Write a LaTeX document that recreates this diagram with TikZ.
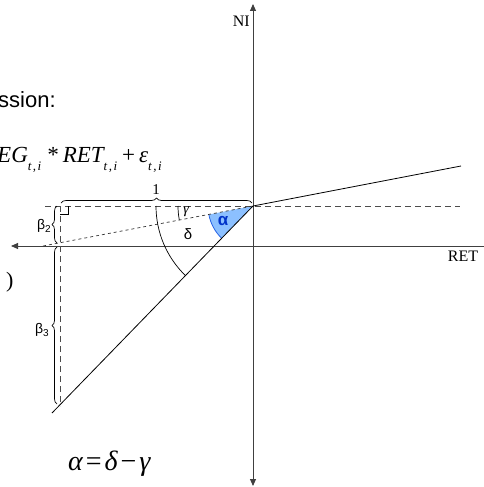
\documentclass[tikz,border=0pt]{standalone}
\usepackage{fontspec}
\setmainfont{Liberation Serif}
\newfontfamily\arialfont{Liberation Sans}
\usetikzlibrary{arrows.meta,calc,decorations.pathreplacing}
\definecolor{wedgefill}{RGB}{140,192,255}
\definecolor{wedgeline}{RGB}{40,100,230}
\definecolor{alphatext}{RGB}{0,50,200}
\tikzset{
    axis line/.style={
        draw=black!75,
        line width=0.9pt
    },
    long dashes/.style={
        draw=black!70,
        line width=0.8pt,
        dash pattern=on 6pt off 4pt
    },
    short dashes/.style={
        draw=black!80,
        line width=0.7pt,
        dash pattern=on 3pt off 3pt
    },
    curly/.style={
        decorate,
        decoration={brace, amplitude=5pt},
        line width=0.7pt
    },
    small label/.style={
        inner sep=0pt,
        font=\fontsize{14}{14}\selectfont
    }
}
\newcommand{\subti}{\raisebox{-8pt}{\fontsize{13}{13}\selectfont\itshape t\kern1.5pt,\kern1.5pt i}}

\begin{document}
\begin{tikzpicture}[x=1pt,y=-1pt]
\useasboundingbox (0,0) rectangle (484,487);
% axes
\coordinate (O) at (253,206);
\coordinate (ytop) at (253,4);
\coordinate (ybot) at (253,486);
\coordinate (xleft) at (11,246);
\coordinate (xright) at (486,246);
\draw[axis line,{Triangle[length=7pt,width=6pt]}-{Triangle[length=7pt,width=6pt]}] (ybot) -- (ytop);
\draw[axis line,-{Triangle[length=7pt,width=6pt]}] (xright) -- (xleft);
\node[small label,font=\fontsize{16}{16}\selectfont,anchor=east] (ni) at (250,21) {NI};
\node[small label,font=\fontsize{16}{16}\selectfont] (ret) at (463,256) {RET};

% regression lines
\coordinate (slopeend) at (461,166);
\coordinate (slopeleft) at (43,246);
\coordinate (downend) at (52,413);
\coordinate (hleft) at (45,206);
\coordinate (hright) at (460,206);
\coordinate (ctop) at (60,206);
\coordinate (cbot) at (60,406);

\fill[wedgefill] (O) -- ++(169.1:45) arc[start angle=169.1, end angle=134.2, radius=45] -- cycle;
\draw[wedgeline, line width=0.8pt] (O) ++(169.1:45) arc[start angle=169.1, end angle=134.2, radius=45];

\draw[long dashes] (hleft) -- (hright);
\draw[short dashes] (slopeleft) -- (O);
\draw[long dashes] (ctop) -- (cbot);
\draw[line width=0.8pt] (O) -- (slopeend);
\draw[line width=0.8pt] (O) -- (downend);
\draw[line width=0.6pt] (60,214) -- (68,214) -- (68,206);

% angles
\draw[line width=0.7pt] (O) ++(180:97) arc[start angle=180, end angle=134.2, radius=97];
\draw[line width=0.7pt] (O) ++(180:75) arc[start angle=180, end angle=169.1, radius=75];
\node[small label,font=\fontsize{15}{15}\selectfont] (gamma) at (186,212) {\itshape γ};
\node[small label,font=\arialfont\fontsize{15}{15}\selectfont] (delta) at (188,234) {δ};
\node[small label,font=\arialfont\bfseries\fontsize{17}{17}\selectfont,text=alphatext] (alpha) at (223,221) {α};

% braces
\draw[curly] (61,203) -- (252,203);
\node[small label,font=\fontsize{15}{15}\selectfont] (one) at (156,190) {1};
\draw[curly] (57,243) -- (57,206);
\node[small label,font=\arialfont\fontsize{14}{14}\selectfont] (b2) at (44,226) {β\raisebox{-3pt}{\fontsize{10}{10}\selectfont 2}};
\draw[curly] (57,404) -- (57,247);
\node[small label,font=\arialfont\fontsize{14}{14}\selectfont] (b3) at (42,330) {β\raisebox{-3pt}{\fontsize{10}{10}\selectfont 3}};

% text on the left
\node[inner sep=0pt,anchor=base west,font=\arialfont\fontsize{22}{22}\selectfont] (head) at (-2,107) {ssion:};
\node[inner sep=0pt,anchor=base west,font=\fontsize{23}{23}\selectfont\itshape] (model) at (-3,162)
    {EG\subti\kern5pt*\kern5pt RET\subti\kern5pt\upshape+\kern4pt\itshape ε\subti};
\node[inner sep=0pt,anchor=base west,font=\fontsize{22}{22}\selectfont] (paren) at (6,287) {)};
\node[inner sep=0pt,anchor=base west,font=\fontsize{28}{28}\selectfont\itshape] (result) at (68,470)
    {α\kern3pt\upshape=\kern3pt\itshape δ\kern3pt\upshape−\kern3pt\itshape γ};
\end{tikzpicture}
\end{document}
